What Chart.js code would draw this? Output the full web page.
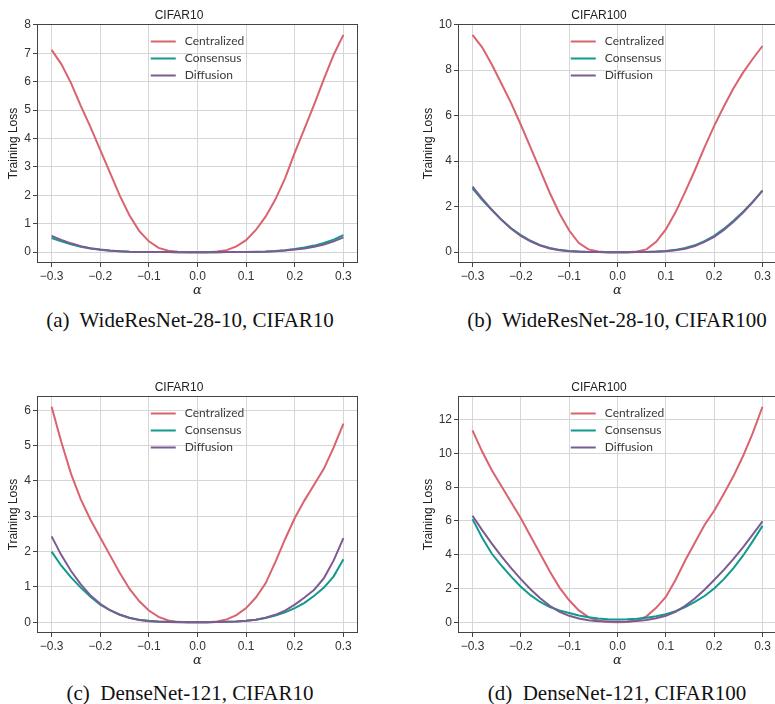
<!DOCTYPE html>
<html>
<head>
<meta charset="utf-8">
<script src="https://cdn.jsdelivr.net/npm/chart.js@4.4.0/dist/chart.umd.min.js"></script>
<style>
  html, body { margin: 0; padding: 0; background: #fff; overflow: hidden; width: 775px; height: 704px; }
  .panel { position: absolute; }
  .caption {
    position: absolute; width: 400px; text-align: center;
    font-family: "Liberation Serif", "Times New Roman", serif; font-size: 21px; color: #111;
    white-space: pre; line-height: 1;
  }
</style>
</head>
<body>
<div class="panel" style="left:0;top:0"><canvas id="ca" width="385" height="300"></canvas></div>
<div class="panel" style="left:421px;top:0"><canvas id="cb" width="360" height="300"></canvas></div>
<div class="panel" style="left:0;top:372px"><canvas id="cc" width="385" height="298"></canvas></div>
<div class="panel" style="left:421px;top:372px"><canvas id="cd" width="360" height="298"></canvas></div>

<div class="caption" style="left:-10px;top:310px">(a)  WideResNet-28-10, CIFAR10</div>
<div class="caption" style="left:417px;top:310px">(b)  WideResNet-28-10, CIFAR100</div>
<div class="caption" style="left:-10px;top:683px">(c)  DenseNet-121, CIFAR10</div>
<div class="caption" style="left:417px;top:683px">(d)  DenseNet-121, CIFAR100</div>

<script>
// alpha grid (x axis)
const alphas = [-0.30, -0.28, -0.26, -0.24, -0.22, -0.20, -0.18, -0.16, -0.14, -0.12, -0.10,
                -0.08, -0.06, -0.04, -0.02, 0.00, 0.02, 0.04, 0.06, 0.08, 0.10,
                0.12, 0.14, 0.16, 0.18, 0.20, 0.22, 0.24, 0.26, 0.28, 0.30];
const xTicks = [-0.3, -0.2, -0.1, 0.0, 0.1, 0.2, 0.3];

// (a) WideResNet-28-10, CIFAR10
const aCentralized = [7.12, 6.62, 5.95, 5.15, 4.40, 3.60, 2.80, 2.00, 1.30, 0.75, 0.38,
                      0.15, 0.05, 0.01, 0.00, 0.00, 0.00, 0.02, 0.07, 0.20, 0.42,
                      0.78, 1.25, 1.85, 2.60, 3.50, 4.35, 5.20, 6.10, 6.95, 7.65];
const aConsensus = [0.50, 0.38, 0.28, 0.19, 0.13, 0.085, 0.05, 0.03, 0.015, 0.008, 0.004,
                    0.002, 0.001, 0.0, 0.0, 0.0, 0.0, 0.0, 0.001, 0.002, 0.005,
                    0.01, 0.02, 0.04, 0.07, 0.11, 0.16, 0.23, 0.32, 0.44, 0.60];
const aDiffusion = [0.57, 0.43, 0.31, 0.21, 0.14, 0.09, 0.055, 0.03, 0.015, 0.008, 0.004,
                    0.002, 0.001, 0.0, 0.0, 0.0, 0.0, 0.0, 0.001, 0.002, 0.004,
                    0.008, 0.015, 0.03, 0.055, 0.09, 0.13, 0.19, 0.27, 0.38, 0.52];
const aYTicks = [0, 1, 2, 3, 4, 5, 6, 7, 8];

// (b) WideResNet-28-10, CIFAR100
const bCentralized = [9.55, 9.00, 8.25, 7.40, 6.55, 5.60, 4.60, 3.60, 2.60, 1.70, 0.95,
                      0.40, 0.12, 0.03, 0.00, 0.00, 0.00, 0.03, 0.12, 0.45, 1.00,
                      1.75, 2.65, 3.60, 4.60, 5.55, 6.40, 7.20, 7.90, 8.50, 9.06];
const bConsensus = [2.80, 2.30, 1.85, 1.42, 1.05, 0.75, 0.50, 0.31, 0.18, 0.10, 0.05,
                    0.025, 0.01, 0.005, 0.0, 0.0, 0.0, 0.005, 0.01, 0.025, 0.05,
                    0.10, 0.18, 0.30, 0.48, 0.72, 1.02, 1.38, 1.78, 2.22, 2.70];
const bDiffusion = [2.88, 2.35, 1.86, 1.42, 1.03, 0.71, 0.47, 0.29, 0.16, 0.08, 0.04,
                    0.02, 0.008, 0.003, 0.0, 0.0, 0.0, 0.003, 0.008, 0.02, 0.04,
                    0.08, 0.15, 0.27, 0.45, 0.67, 0.97, 1.33, 1.74, 2.20, 2.70];
const bYTicks = [0, 2, 4, 6, 8, 10];

// (c) DenseNet-121, CIFAR10
const cCentralized = [6.10, 5.10, 4.20, 3.48, 2.90, 2.40, 1.90, 1.40, 0.95, 0.60, 0.33,
                      0.15, 0.05, 0.01, 0.00, 0.00, 0.00, 0.02, 0.08, 0.20, 0.40,
                      0.70, 1.10, 1.70, 2.35, 2.95, 3.45, 3.90, 4.35, 4.95, 5.62];
const cConsensus = [2.00, 1.60, 1.27, 0.98, 0.72, 0.50, 0.34, 0.22, 0.13, 0.07, 0.04,
                    0.02, 0.01, 0.005, 0.0, 0.0, 0.0, 0.005, 0.01, 0.02, 0.04,
                    0.07, 0.12, 0.19, 0.28, 0.40, 0.55, 0.75, 0.98, 1.30, 1.78];
const cDiffusion = [2.43, 1.90, 1.45, 1.07, 0.76, 0.52, 0.34, 0.21, 0.12, 0.06, 0.03,
                    0.015, 0.005, 0.0, 0.0, 0.0, 0.0, 0.005, 0.01, 0.02, 0.04,
                    0.07, 0.13, 0.21, 0.33, 0.50, 0.70, 0.92, 1.25, 1.75, 2.38];
const cYTicks = [0, 1, 2, 3, 4, 5, 6];

// (d) DenseNet-121, CIFAR100
const dCentralized = [11.35, 10.10, 9.00, 8.05, 7.10, 6.15, 5.10, 4.05, 3.00, 2.05, 1.30,
                      0.70, 0.30, 0.10, 0.02, 0.00, 0.02, 0.10, 0.35, 0.85, 1.50,
                      2.50, 3.65, 4.70, 5.75, 6.60, 7.60, 8.65, 9.85, 11.20, 12.75];
const dConsensus = [6.10, 5.00, 4.05, 3.35, 2.70, 2.10, 1.60, 1.20, 0.90, 0.70, 0.55,
                    0.40, 0.30, 0.22, 0.18, 0.16, 0.17, 0.20, 0.27, 0.35, 0.47,
                    0.65, 0.90, 1.20, 1.55, 2.00, 2.55, 3.20, 3.95, 4.80, 5.70];
const dDiffusion = [6.30, 5.45, 4.65, 3.90, 3.20, 2.55, 1.95, 1.42, 0.97, 0.62, 0.38,
                    0.22, 0.12, 0.06, 0.04, 0.03, 0.04, 0.07, 0.13, 0.23, 0.38,
                    0.62, 0.97, 1.40, 1.92, 2.50, 3.10, 3.75, 4.45, 5.20, 5.97];
const dYTicks = [0, 2, 4, 6, 8, 10, 12];

const COLOR_CENT = '#d9636f';
const COLOR_CONS = '#109a8b';
const COLOR_DIFF = '#7d5b92';
const SANS = '"Liberation Sans", Arial, sans-serif';

// legend drawn inside the axes, upper centre, no frame (matplotlib style)
const legendInside = {
  id: 'legendInside',
  afterDatasetsDraw(chart) {
    const { ctx, chartArea } = chart;
    const ds = chart.data.datasets;
    ctx.save();
    ctx.font = '12px Lato, "Open Sans", sans-serif';
    const textW = Math.max(...ds.map(d => ctx.measureText(d.label).width));
    const lineLen = 25, gap = 9;
    const x0 = (chartArea.left + chartArea.right) / 2 - (lineLen + gap + textW) / 2;
    ds.forEach((d, i) => {
      const y = Math.round(chartArea.top + 16.5 + i * 17.3) + 0.5;
      ctx.strokeStyle = d.borderColor;
      ctx.lineWidth = 2;
      ctx.beginPath();
      ctx.moveTo(x0, y);
      ctx.lineTo(x0 + lineLen, y);
      ctx.stroke();
      ctx.fillStyle = '#3a3a3a';
      ctx.textBaseline = 'middle';
      ctx.fillText(d.label, x0 + lineLen + gap, y);
    });
    ctx.restore();
  }
};

// four spines
const frame = {
  id: 'frame',
  afterDraw(chart) {
    const { ctx, chartArea: a } = chart;
    ctx.save();
    ctx.strokeStyle = '#444';
    ctx.lineWidth = 1;
    ctx.strokeRect(Math.round(a.left) + 0.5, Math.round(a.top) + 0.5,
                   Math.round(a.right - a.left) - 1, Math.round(a.bottom - a.top) - 1);
    ctx.restore();
  }
};

function fmt(v) {
  return (v < 0 ? '\u2212' : '') + Math.abs(v).toFixed(1);
}

function crearPanel(id, title, cent, cons, diff, yTicks, opts) {
  const all = cent.concat(cons, diff);
  const yMin = Math.min(...all), yMax = Math.max(...all);
  const yPad = (yMax - yMin) * 0.05;
  const xPad = (alphas[alphas.length - 1] - alphas[0]) * 0.05;
  const serie = (label, vals, color, order) => ({
    label,
    data: vals.map((v, i) => ({ x: alphas[i], y: v })),
    borderColor: color,
    backgroundColor: color,
    borderWidth: 2,
    pointRadius: 0,
    tension: 0,
    fill: false,
    order
  });

  return new Chart(document.getElementById(id), {
    type: 'line',
    data: {
      datasets: [
        serie('Centralized', cent, COLOR_CENT, 3),
        serie('Consensus', cons, COLOR_CONS, 2),
        serie('Diffusion', diff, COLOR_DIFF, 1)
      ]
    },
    options: {
      responsive: false,
      animation: false,
      devicePixelRatio: 1,
      layout: { padding: { left: 0, right: opts.padRight, top: 0, bottom: 0 } },
      plugins: {
        legend: { display: false },
        tooltip: { enabled: false },
        title: {
          display: true,
          text: title,
          color: '#222',
          font: { family: SANS, size: 12, weight: 'normal', lineHeight: 1.2 },
          padding: { top: 8, bottom: 1.6 }
        }
      },
      scales: {
        x: {
          type: 'linear',
          min: alphas[0] - xPad,
          max: alphas[alphas.length - 1] + xPad,
          afterBuildTicks: s => { s.ticks = xTicks.map(v => ({ value: v })); },
          afterFit: s => { s.height = 37; },
          grid: { color: '#d6d6d6', lineWidth: 1, drawTicks: true, tickLength: 4, tickColor: '#444' },
          border: { display: false },
          ticks: {
            color: '#333', maxRotation: 0, autoSkip: false, padding: 2,
            font: { family: SANS, size: 12 },
            callback: v => fmt(v)
          },
          title: {
            display: true,
            text: '\u03b1',
            color: '#222',
            font: { family: '"DejaVu Serif", serif', style: 'italic', size: 13, lineHeight: 1.2 },
            padding: { top: 0, bottom: 2 }
          }
        },
        y: {
          type: 'linear',
          min: yMin - yPad,
          max: yMax + yPad,
          afterBuildTicks: s => { s.ticks = yTicks.map(v => ({ value: v })); },
          afterFit: s => { s.width = opts.yWidth; },
          grid: { color: '#d6d6d6', lineWidth: 1, drawTicks: true, tickLength: 4, tickColor: '#444' },
          border: { display: false },
          ticks: {
            color: '#333', padding: 2,
            font: { family: SANS, size: 12 },
            callback: v => String(v)
          },
          title: {
            display: true,
            text: 'Training Loss',
            color: '#222',
            font: { family: SANS, size: 12, lineHeight: 1.2 },
            padding: { top: opts.yTitlePad, bottom: 0 }
          }
        }
      }
    },
    plugins: [legendInside, frame]
  });
}

window.onload = () => {
  crearPanel('ca', 'CIFAR10', aCentralized, aConsensus, aDiffusion, aYTicks,
             { padRight: 27, yWidth: 37, yTitlePad: 6 });
  crearPanel('cb', 'CIFAR100', bCentralized, bConsensus, bDiffusion, bYTicks,
             { padRight: 4, yWidth: 37, yTitlePad: 0 });
  crearPanel('cc', 'CIFAR10', cCentralized, cConsensus, cDiffusion, cYTicks,
             { padRight: 27, yWidth: 37, yTitlePad: 6 });
  crearPanel('cd', 'CIFAR100', dCentralized, dConsensus, dDiffusion, dYTicks,
             { padRight: 4, yWidth: 37, yTitlePad: 0 });
};
</script>
</body>
</html>
